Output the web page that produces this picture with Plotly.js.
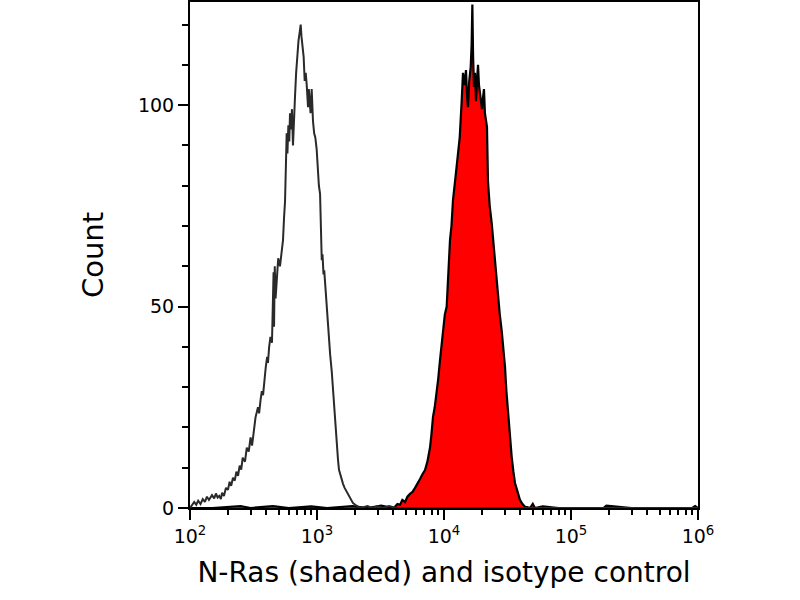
<!DOCTYPE html>
<html>
<head>
<meta charset="utf-8">
<script src="https://cdn.plot.ly/plotly-3.0.1.min.js"></script>
<style>html,body{margin:0;padding:0;background:#fff;}#chart{width:800px;height:600px;}</style>
</head>
<body>
<div id="chart"></div>
<script>
// Isotype control (open histogram)
var isoX = [100,103,108,112,116,121,126,131,136,141,149,155,160,165,170,175,179,185,192,199,205,211,218,225,232,239,246,253,260,271,280,290,300,308,318,328,343,350,360,368,376,385,395,405,411,420,430,442,450,455,459,465,472,484,495,511,525,540,550,560,570,577,585,595,605,613,625,635,647,660,671,685,700,715,730,744,755,771,785,800,815,830,840,850,862,875,890,908,920,930,950,970,994,1005,1019,1035,1057,1075,1090,1105,1125,1140,1157,1180,1200,1222,1250,1270,1306,1330,1360,1387,1410,1440,1463,1490,1530,1560,1603,1650,1700,1754,1800,1860,1921,2000,2104,2200,2500,2700,3000,3300,3700,4200,5000,7000,10000,20000,50000,100000,300000,1000000];
var isoY = [0,0.5,1.5,0.8,1.8,1.0,2.2,1.5,2.8,2.0,3.2,2.4,3.6,2.6,3.0,2.2,3.8,3.0,5.0,4.5,6.5,5.5,7.5,6.8,9.0,8.0,10.5,9.5,12.5,11.5,15.0,14.0,17.5,15.5,20.0,22.5,25.0,23.5,27.0,29.0,28.0,32.0,35.0,37.5,36.0,40.0,42.5,41.0,52.0,58.5,45.0,60.0,52.0,58.0,62.0,60.0,64.0,66.5,72.0,76.0,86.0,93.0,88.0,95.0,91.0,98.0,94.0,99.0,90.0,100.0,102.0,108.0,113.0,116.0,118.0,120.0,117.0,114.0,112.0,106.0,108.0,105.0,100.0,99.5,104.0,101.0,98.0,104.0,99.0,96.0,93.0,92.0,89.0,86.0,84.0,80.0,78.0,70.0,61.5,63.0,58.0,59.0,56.0,52.0,47.0,44.0,40.0,38.0,34.0,30.0,27.0,23.5,19.0,15.0,12.0,9.5,8.0,7.0,6.0,5.0,4.2,3.7,2.8,2.0,1.2,0.8,0.3,0,0.5,0,0.4,0,0.5,0,0,0,0,0,0,0,0,0];

// N-Ras (shaded histogram)
var nrasX = [100,150,250,300,450,600,900,1200,1900,2500,3200,4000,4111,4300,4505,4700,4936,5150,5400,5650,5912,6200,6474,6800,7088,7400,7762,7950,8190,8450,8770,9000,9302,9550,9825,10150,10500,10750,11150,11450,11770,12210,12500,12890,13300,13780,14110,14500,14900,15200,15450,15800,16230,16500,16720,16950,17230,17550,17870,18200,18530,18850,19200,19550,19910,20300,20640,21000,21400,21800,22200,22900,23750,24500,25220,25900,26630,27500,28470,29300,30230,31000,31900,33000,34120,35200,36220,38000,39650,41500,43440,45000,47560,50000,52000,60000,80000,120000,180000,190000,300000,600000,900000,950000,1000000];
var nrasY = [0,0,0.5,0,0.5,0,0.4,0,0.5,0,0.6,0,0.3,1.0,0.8,2.0,1.5,2.8,3.5,4.0,5.0,6.0,7.2,8.5,9.4,11.5,15.0,18.0,22.6,25.0,28.5,32.0,36.7,40.0,45.0,48.0,50.0,58.0,66.5,70.0,76.4,81.0,84.0,87.0,92.0,101.0,108.0,105.0,108.7,102.0,99.5,106.0,109.5,115.0,125.0,112.0,104.5,108.0,101.0,106.0,110.0,105.0,103.0,100.0,99.0,102.0,104.0,98.0,95.5,94.6,81.0,75.0,70.7,66.0,60.8,56.0,52.4,48.0,44.0,40.0,35.0,29.0,23.5,18.0,12.7,9.0,6.2,4.0,2.0,1.0,0.3,0.2,0,1.0,0,0.4,0,0,0,0.6,0,0,0,0.5,0];

var yTickVals = [0, 50, 100];
var xTickVals = [100, 1000, 10000, 100000, 1000000];
var xTickText = ['10<sup>2</sup>', '10<sup>3</sup>', '10<sup>4</sup>', '10<sup>5</sup>', '10<sup>6</sup>'];

var FONT = 'DejaVu Sans, Verdana, sans-serif';

var traces = [
  {
    x: nrasX, y: nrasY, type: 'scatter', mode: 'lines',
    fill: 'tozeroy', fillcolor: '#ff0000',
    line: {color: '#000000', width: 2.2, shape: 'linear'},
    hoverinfo: 'skip'
  },
  {
    x: isoX, y: isoY, type: 'scatter', mode: 'lines',
    line: {color: '#2a2a2a', width: 2, shape: 'linear'},
    hoverinfo: 'skip'
  }
];

var layout = {
  width: 800, height: 600,
  margin: {l: 190, r: 102, t: 2, b: 92},
  paper_bgcolor: '#ffffff', plot_bgcolor: '#ffffff',
  showlegend: false,
  font: {family: FONT, color: '#000000'},
  xaxis: {
    type: 'log', range: [2, 6],
    tickvals: xTickVals, ticktext: xTickText,
    ticks: 'outside', ticklen: 10, tickwidth: 2, tickcolor: '#000',
    minor: {dtick: 'D1', ticks: 'outside', ticklen: 5, tickwidth: 2, tickcolor: '#000', showgrid: false},
    showline: true, linecolor: '#000', linewidth: 2, mirror: true,
    showgrid: false, zeroline: false,
    tickfont: {size: 19, family: FONT},
    title: {text: 'N-Ras (shaded) and isotype control', font: {size: 28, family: FONT}, standoff: 17}
  },
  yaxis: {
    range: [0, 125.6],
    tickvals: yTickVals,
    ticks: 'outside', ticklen: 10, tickwidth: 2, tickcolor: '#000',
    minor: {dtick: 10, ticks: 'outside', ticklen: 6, tickwidth: 2, tickcolor: '#000', showgrid: false},
    showline: true, linecolor: '#000', linewidth: 2, mirror: true,
    showgrid: false, zeroline: false,
    tickfont: {size: 19, family: FONT},
    title: {text: 'Count', font: {size: 29, family: FONT}, standoff: 26}
  }
};

Plotly.newPlot('chart', traces, layout, {displayModeBar: false, staticPlot: true});
</script>
</body>
</html>
